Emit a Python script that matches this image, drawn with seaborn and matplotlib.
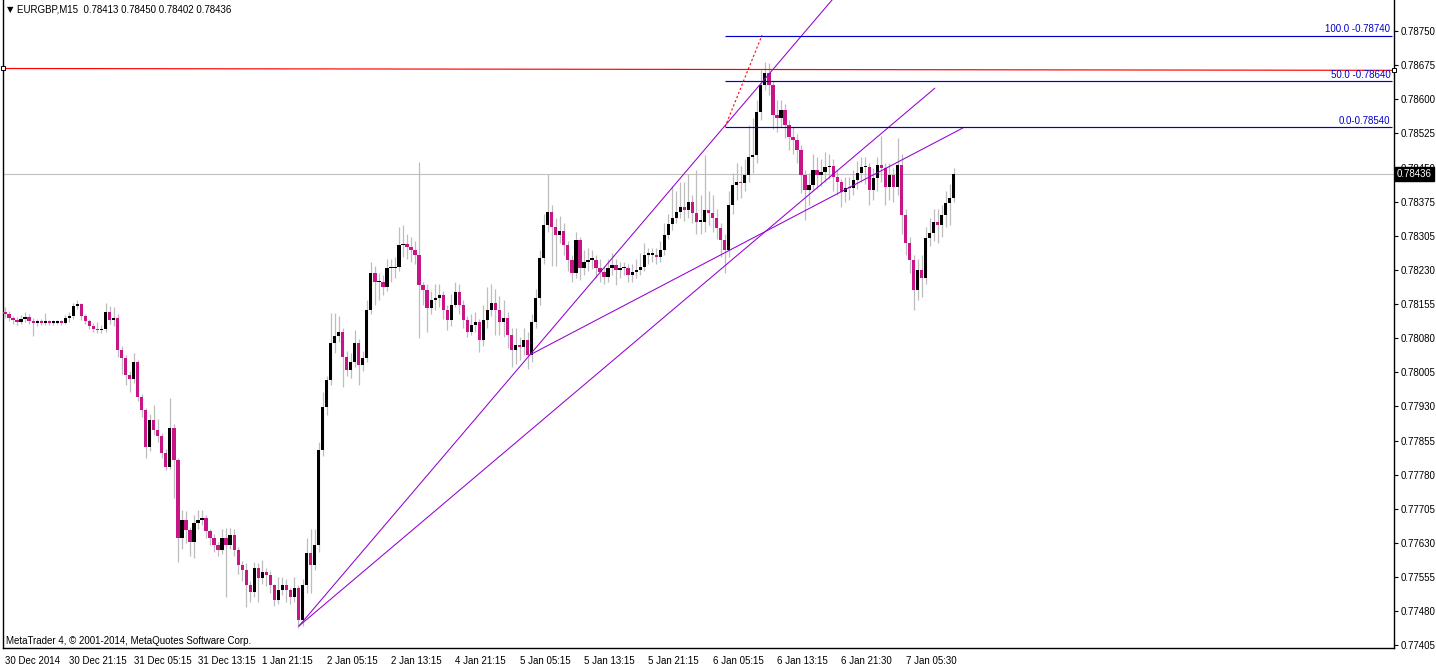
import numpy as np
import matplotlib
matplotlib.use("Agg")
import matplotlib.pyplot as plt
import seaborn as sns
from matplotlib.transforms import ScaledTranslation, blended_transform_factory

sns.set_style("white")
plt.rcParams['font.family'] = ['Liberation Sans', 'DejaVu Sans']

# ---------------- data ----------------
symbol = "EURGBP,M15"
header_ohlc = ["0.78413", "0.78450", "0.78402", "0.78436"]
first_open = 0.78135

close = [
    0.78130, 0.78122, 0.78117, 0.78113, 0.78119, 0.78124, 0.78115, 0.78111, 0.78113, 0.78111,
    0.78113, 0.78111, 0.78111, 0.78113, 0.78111, 0.78122, 0.78126, 0.78148, 0.78152, 0.78126,
    0.78115, 0.78104, 0.78097, 0.78095, 0.78097, 0.78135, 0.78117, 0.78122, 0.78051, 0.78034,
    0.77997, 0.77988, 0.78025, 0.77949, 0.77920, 0.77839, 0.77898, 0.77876, 0.77863, 0.77826,
    0.77795, 0.77881, 0.77811, 0.77640, 0.77679, 0.77657, 0.77631, 0.77673, 0.77679, 0.77684,
    0.77655, 0.77640, 0.77624, 0.77613, 0.77640, 0.77624, 0.77646, 0.77613, 0.77581, 0.77570,
    0.77537, 0.77522, 0.77574, 0.77552, 0.77565, 0.77559, 0.77537, 0.77504, 0.77526, 0.77537,
    0.77526, 0.77511, 0.77530, 0.77460, 0.77537, 0.77607, 0.77581, 0.77624, 0.77832, 0.77927,
    0.77986, 0.78067, 0.78082, 0.78091, 0.78036, 0.78008, 0.78025, 0.78067, 0.78019, 0.78034,
    0.78139, 0.78220, 0.78200, 0.78200, 0.78189, 0.78231, 0.78231, 0.78233, 0.78281, 0.78284,
    0.78277, 0.78270, 0.78260, 0.78194, 0.78183, 0.78143, 0.78161, 0.78165, 0.78172, 0.78139,
    0.78117, 0.78150, 0.78179, 0.78150, 0.78117, 0.78091, 0.78106, 0.78113, 0.78073, 0.78117,
    0.78139, 0.78154, 0.78139, 0.78113, 0.78122, 0.78084, 0.78051, 0.78062, 0.78058, 0.78073,
    0.78041, 0.78113, 0.78165, 0.78253, 0.78325, 0.78354, 0.78321, 0.78303, 0.78312, 0.78281,
    0.78249, 0.78220, 0.78292, 0.78231, 0.78244, 0.78249, 0.78249, 0.78231, 0.78222, 0.78211,
    0.78231, 0.78238, 0.78227, 0.78231, 0.78231, 0.78216, 0.78222, 0.78227, 0.78233, 0.78260,
    0.78260, 0.78260, 0.78255, 0.78270, 0.78303, 0.78327, 0.78341, 0.78354, 0.78365, 0.78358,
    0.78376, 0.78352, 0.78332, 0.78332, 0.78358, 0.78352, 0.78341, 0.78319, 0.78292, 0.78270,
    0.78369, 0.78413, 0.78419, 0.78417, 0.78435, 0.78474, 0.78479, 0.78573, 0.78632, 0.78658,
    0.78632, 0.78566, 0.78560, 0.78577, 0.78544, 0.78518, 0.78511, 0.78489, 0.78435, 0.78402,
    0.78413, 0.78446, 0.78435, 0.78441, 0.78452, 0.78454, 0.78430, 0.78419, 0.78398, 0.78406,
    0.78406, 0.78424, 0.78439, 0.78452, 0.78452, 0.78402, 0.78428, 0.78457, 0.78450, 0.78408,
    0.78435, 0.78408, 0.78457, 0.78347, 0.78286, 0.78249, 0.78183, 0.78227, 0.78209, 0.78297,
    0.78308, 0.78332, 0.78325, 0.78347, 0.78373, 0.78384, 0.78436,
]

high = [
    0.78145, 0.78138, 0.78126, 0.78124, 0.78128, 0.78135, 0.78130, 0.78122, 0.78120, 0.78119,
    0.78132, 0.78118, 0.78117, 0.78117, 0.78117, 0.78128, 0.78135, 0.78154, 0.78161, 0.78154,
    0.78130, 0.78119, 0.78111, 0.78113, 0.78106, 0.78154, 0.78148, 0.78146, 0.78130, 0.78060,
    0.78040, 0.78005, 0.78045, 0.78030, 0.77955, 0.77925, 0.77912, 0.77932, 0.77900, 0.77870,
    0.77835, 0.77946, 0.77890, 0.77815, 0.77701, 0.77700, 0.77665, 0.77690, 0.77701, 0.77701,
    0.77690, 0.77660, 0.77648, 0.77632, 0.77660, 0.77662, 0.77662, 0.77660, 0.77620, 0.77590,
    0.77585, 0.77545, 0.77588, 0.77585, 0.77592, 0.77575, 0.77568, 0.77540, 0.77555, 0.77555,
    0.77550, 0.77530, 0.77555, 0.77537, 0.77550, 0.77640, 0.77660, 0.77660, 0.77850, 0.77960,
    0.77995, 0.78133, 0.78133, 0.78125, 0.78100, 0.78050, 0.78045, 0.78095, 0.78075, 0.78050,
    0.78160, 0.78245, 0.78235, 0.78220, 0.78215, 0.78250, 0.78250, 0.78255, 0.78320, 0.78325,
    0.78305, 0.78300, 0.78290, 0.78463, 0.78200, 0.78195, 0.78180, 0.78195, 0.78195, 0.78180,
    0.78150, 0.78175, 0.78200, 0.78195, 0.78160, 0.78125, 0.78130, 0.78135, 0.78120, 0.78150,
    0.78190, 0.78195, 0.78185, 0.78170, 0.78160, 0.78135, 0.78100, 0.78100, 0.78080, 0.78100,
    0.78090, 0.78130, 0.78185, 0.78270, 0.78350, 0.78437, 0.78370, 0.78340, 0.78345, 0.78330,
    0.78290, 0.78260, 0.78310, 0.78300, 0.78270, 0.78275, 0.78270, 0.78260, 0.78250, 0.78235,
    0.78250, 0.78265, 0.78250, 0.78245, 0.78245, 0.78240, 0.78240, 0.78250, 0.78265, 0.78285,
    0.78275, 0.78275, 0.78275, 0.78290, 0.78330, 0.78350, 0.78410, 0.78400, 0.78420, 0.78420,
    0.78436, 0.78390, 0.78445, 0.78390, 0.78479, 0.78400, 0.78390, 0.78360, 0.78330, 0.78305,
    0.78400, 0.78440, 0.78460, 0.78455, 0.78470, 0.78545, 0.78560, 0.78600, 0.78665, 0.78683,
    0.78680, 0.78640, 0.78600, 0.78600, 0.78590, 0.78555, 0.78540, 0.78525, 0.78500, 0.78445,
    0.78440, 0.78480, 0.78475, 0.78470, 0.78485, 0.78480, 0.78470, 0.78445, 0.78425, 0.78430,
    0.78430, 0.78445, 0.78465, 0.78475, 0.78475, 0.78460, 0.78450, 0.78475, 0.78520, 0.78460,
    0.78460, 0.78450, 0.78515, 0.78480, 0.78360, 0.78300, 0.78260, 0.78250, 0.78260, 0.78320,
    0.78340, 0.78360, 0.78360, 0.78370, 0.78400, 0.78415, 0.78450,
]

low = [
    0.78122, 0.78115, 0.78108, 0.78106, 0.78108, 0.78113, 0.78108, 0.78082, 0.78104, 0.78106,
    0.78106, 0.78106, 0.78106, 0.78108, 0.78106, 0.78108, 0.78113, 0.78119, 0.78141, 0.78117,
    0.78108, 0.78097, 0.78091, 0.78088, 0.78088, 0.78091, 0.78108, 0.78104, 0.78036, 0.78000,
    0.77975, 0.77960, 0.77980, 0.77940, 0.77905, 0.77815, 0.77830, 0.77865, 0.77850, 0.77815,
    0.77789, 0.77790, 0.77727, 0.77587, 0.77615, 0.77630, 0.77600, 0.77596, 0.77660, 0.77668,
    0.77640, 0.77625, 0.77610, 0.77600, 0.77605, 0.77511, 0.77615, 0.77600, 0.77560, 0.77545,
    0.77489, 0.77500, 0.77510, 0.77500, 0.77540, 0.77535, 0.77520, 0.77490, 0.77495, 0.77515,
    0.77500, 0.77495, 0.77500, 0.77443, 0.77448, 0.77520, 0.77519, 0.77570, 0.77610, 0.77820,
    0.77910, 0.77975, 0.78045, 0.78070, 0.77970, 0.77995, 0.77990, 0.78015, 0.77975, 0.78005,
    0.78025, 0.78130, 0.78150, 0.78160, 0.78172, 0.78180, 0.78200, 0.78210, 0.78225, 0.78255,
    0.78250, 0.78245, 0.78240, 0.78078, 0.78150, 0.78092, 0.78130, 0.78140, 0.78145, 0.78120,
    0.78095, 0.78105, 0.78145, 0.78130, 0.78100, 0.78080, 0.78085, 0.78090, 0.78047, 0.78060,
    0.78100, 0.78125, 0.78085, 0.78085, 0.78080, 0.78055, 0.78014, 0.78020, 0.78030, 0.78040,
    0.78010, 0.78025, 0.78100, 0.78150, 0.78240, 0.78310, 0.78235, 0.78235, 0.78285, 0.78260,
    0.78225, 0.78200, 0.78210, 0.78205, 0.78215, 0.78225, 0.78230, 0.78210, 0.78200, 0.78195,
    0.78200, 0.78215, 0.78194, 0.78210, 0.78215, 0.78200, 0.78200, 0.78210, 0.78215, 0.78225,
    0.78240, 0.78245, 0.78240, 0.78245, 0.78260, 0.78295, 0.78315, 0.78330, 0.78340, 0.78335,
    0.78340, 0.78330, 0.78305, 0.78305, 0.78310, 0.78325, 0.78310, 0.78295, 0.78255, 0.78220,
    0.78255, 0.78350, 0.78380, 0.78385, 0.78400, 0.78420, 0.78440, 0.78460, 0.78555, 0.78620,
    0.78610, 0.78535, 0.78530, 0.78540, 0.78515, 0.78490, 0.78480, 0.78460, 0.78395, 0.78336,
    0.78370, 0.78400, 0.78405, 0.78410, 0.78420, 0.78425, 0.78400, 0.78390, 0.78365, 0.78375,
    0.78380, 0.78390, 0.78405, 0.78420, 0.78415, 0.78370, 0.78380, 0.78400, 0.78420, 0.78370,
    0.78380, 0.78375, 0.78390, 0.78305, 0.78260, 0.78220, 0.78139, 0.78160, 0.78168, 0.78195,
    0.78280, 0.78290, 0.78285, 0.78300, 0.78320, 0.78325, 0.78375,
]

time_labels = ["30 Dec 2014", "30 Dec 21:15", "31 Dec 05:15", "31 Dec 13:15", "1 Jan 21:15",
               "2 Jan 05:15", "2 Jan 13:15", "4 Jan 21:15", "5 Jan 05:15", "5 Jan 13:15",
               "5 Jan 21:15", "6 Jan 05:15", "6 Jan 13:15", "6 Jan 21:30", "7 Jan 05:30"]
price_labels = ["0.77405", "0.77480", "0.77555", "0.77630", "0.77705", "0.77780", "0.77855",
                "0.77930", "0.78005", "0.78080", "0.78155", "0.78230", "0.78305", "0.78375",
                "0.78450", "0.78525", "0.78600", "0.78675", "0.78750"]

fib_levels = [0.78740, 0.78640, 0.78540]
fib_names = ["100.0 -0.78740", "50.0 -0.78640", "0.0-0.78540"]
fib_base_x = [179.1, 188.3]
fib_base_y = [0.78540, 0.78741]
red_line_x = [-0.5, 345.5]
red_line_y = [0.78668, 0.78664]
trend_a_x, trend_a_y = [73.1, 215.0], [0.77447, 0.78914]
trend_b_x, trend_b_y = [73.1, 231.3], [0.77447, 0.78625]
trend_c_x, trend_c_y = [130.6, 238.3], [0.78041, 0.78538]
last_price = 0.78436
footer = "MetaTrader 4, \u00a9 2001-2014, MetaQuotes Software Corp."

# ---------------- figure ----------------
W, H = 1436, 667
fig = plt.figure(figsize=(W / 100, H / 100), dpi=100, facecolor='white')
ax = fig.add_axes([3 / W, 1 - 648 / H, (1394 - 3) / W, 648 / H])
ax.set_facecolor('white')

c = np.array(close)
o = np.r_[first_open, c[:-1]]
hi = np.array(high)
lo = np.array(low)
x = np.arange(len(c))

BULL = 'black'
BEAR = '#C71585'
WICK = '#BDBDBD'
VIOLET = '#9400D3'
FIB = '#0000CD'

ax.axhline(last_price, color='#C0C0C0', lw=0.8, zorder=1)
ax.vlines(x, lo, hi, color=WICK, lw=0.9, zorder=2)
body_bottom = np.minimum(o, c)
body_h = np.maximum(np.abs(c - o), 0.000034)
colors = np.where(c < o, BEAR, BULL)
ax.bar(x, body_h, bottom=body_bottom, width=0.82, color=colors, lw=0, zorder=3)

# trend lines via seaborn
for tx, ty in [(trend_a_x, trend_a_y), (trend_b_x, trend_b_y), (trend_c_x, trend_c_y)]:
    sns.lineplot(x=tx, y=ty, ax=ax, color=VIOLET, lw=0.75, sort=False, estimator=None, zorder=4)

# red horizontal line
ax.plot(red_line_x, red_line_y, color='red', lw=0.85, zorder=4)
ax.plot([red_line_x[0], red_line_x[1]], [red_line_y[0], red_line_y[1]], ls='none', marker='s',
        ms=3.0, mfc='white', mec='black', mew=0.7, clip_on=False, zorder=6)

# fibonacci
ax.hlines(fib_levels, fib_base_x[0], 345.0, color=FIB, lw=0.85, zorder=4)
ax.plot(fib_base_x, fib_base_y, color='red', lw=0.8, ls=(0, (2, 2)), zorder=5)
for lvl, name in zip(fib_levels, fib_names):
    ax.text(344.6, lvl + 0.00003, name, ha='right', va='bottom', color=FIB, fontsize=7, zorder=5)

ax.set_xlim(-0.5, 345.5)
ax.set_ylim(0.77399, 0.78818)

# axes styling
for s in ['left', 'right', 'bottom']:
    ax.spines[s].set_visible(True)
    ax.spines[s].set_color('black')
    ax.spines[s].set_linewidth(1.0)
ax.spines['top'].set_visible(False)

ax.yaxis.tick_right()
ax.set_yticks(np.linspace(0.77405, 0.78750, len(price_labels)))
ax.set_yticklabels(price_labels)
ax.tick_params(axis='y', which='both', direction='out', length=3, width=0.8, pad=2,
               labelsize=7, colors='black', left=False, right=True)
ax.set_xticks([-0.5 + 16 * k for k in range(len(time_labels))])
ax.set_xticklabels(time_labels)
ax.tick_params(axis='x', direction='out', length=4, width=0.8, pad=2, labelsize=7, colors='black')
off = ScaledTranslation(2 / 100, 0, fig.dpi_scale_trans)
for lbl in ax.get_xticklabels():
    lbl.set_ha('left')
    lbl.set_transform(lbl.get_transform() + off)
ax.set_xlabel('')
ax.set_ylabel('')
ax.grid(False)

# current price tag
tr = blended_transform_factory(ax.transAxes, ax.transData)
ax.text(1.0, last_price, "0.78436", transform=tr + ScaledTranslation(3 / 100, 0, fig.dpi_scale_trans),
        ha='left', va='center', color='white', fontsize=7, clip_on=False, zorder=10,
        bbox=dict(boxstyle='square,pad=0.2', fc='black', ec='black'))

# header and footer
fig.text(7 / W, 1 - 10 / H, "\u25bc", fontsize=6, va='center', ha='left', color='black',
         family=['DejaVu Sans'])
fig.text(17 / W, 1 - 10 / H, symbol + "  " + " ".join(header_ohlc), fontsize=7, va='center',
         ha='left', color='black')
fig.text(6 / W, 1 - 641 / H, footer, fontsize=7, va='center', ha='left', color='black')

fig.savefig("out.png", dpi=100, facecolor='white')
